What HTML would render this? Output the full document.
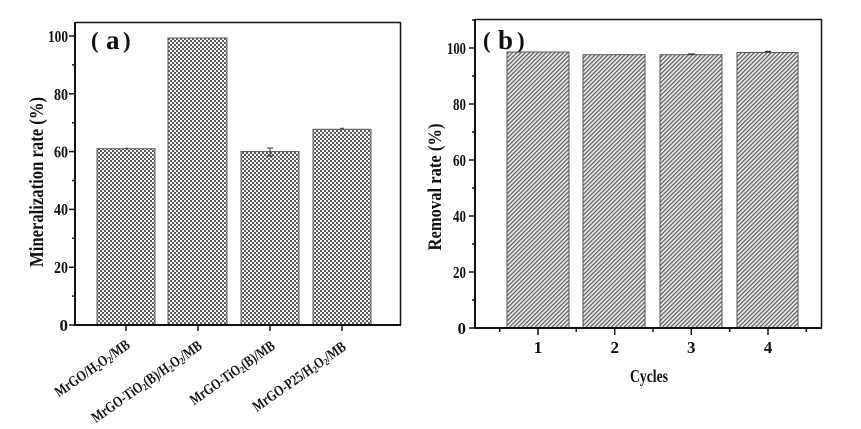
<!DOCTYPE html>
<html>
<head>
<meta charset="utf-8">
<style>
html,body{margin:0;padding:0;background:#fff;}
svg{display:block;}
text{font-family:"Liberation Serif","Noto Serif CJK SC",serif;font-weight:bold;fill:#111;}
</style>
</head>
<body>
<svg width="861" height="429" viewBox="0 0 861 429" xmlns="http://www.w3.org/2000/svg">
<defs>
  <pattern id="chk" width="4" height="4" patternUnits="userSpaceOnUse">
    <rect width="4" height="4" fill="#5c5c5c"/>
    <rect x="0" y="0" width="2" height="2" fill="#f2f2f2"/>
    <rect x="2" y="2" width="2" height="2" fill="#f2f2f2"/>
  </pattern>
  <pattern id="hatch" width="3" height="3" patternUnits="userSpaceOnUse" patternTransform="rotate(45)">
    <rect width="3" height="3" fill="#ececec"/>
    <rect x="0" y="0" width="1.2" height="3" fill="#5a5a5a"/>
  </pattern>
</defs>

<!-- ============ Panel (a) ============ -->
<rect x="97" y="148.7" width="58" height="176.3" fill="url(#chk)" stroke="#555" stroke-width="1"/>
<rect x="168" y="38" width="59" height="287" fill="url(#chk)" stroke="#555" stroke-width="1"/>
<rect x="241" y="151.6" width="58" height="173.4" fill="url(#chk)" stroke="#555" stroke-width="1"/>
<rect x="313" y="129.3" width="58" height="195.7" fill="url(#chk)" stroke="#555" stroke-width="1"/>
<g stroke="#333" stroke-width="1">
  <line x1="270" y1="148" x2="270" y2="156"/>
  <line x1="267" y1="148" x2="273" y2="148"/>
  <line x1="267" y1="156" x2="273" y2="156"/>
  <line x1="340" y1="128.3" x2="344" y2="128.3"/>
  <line x1="125" y1="148.2" x2="128" y2="148.2"/>
</g>
<line x1="75" y1="22.5" x2="400.5" y2="22.5" stroke="#111" stroke-width="1.5"/>
<line x1="400.5" y1="22" x2="400.5" y2="325" stroke="#111" stroke-width="1.5"/>
<line x1="75" y1="22" x2="75" y2="326" stroke="#111" stroke-width="2"/>
<line x1="74" y1="325" x2="401" y2="325" stroke="#111" stroke-width="2"/>
<g stroke="#111" stroke-width="1.5">
  <line x1="69" y1="325" x2="75" y2="325"/>
  <line x1="69" y1="267.2" x2="75" y2="267.2"/>
  <line x1="69" y1="209.4" x2="75" y2="209.4"/>
  <line x1="69" y1="151.6" x2="75" y2="151.6"/>
  <line x1="69" y1="93.8" x2="75" y2="93.8"/>
  <line x1="69" y1="36" x2="75" y2="36"/>
  <line x1="72" y1="296.1" x2="75" y2="296.1"/>
  <line x1="72" y1="238.3" x2="75" y2="238.3"/>
  <line x1="72" y1="180.5" x2="75" y2="180.5"/>
  <line x1="72" y1="122.7" x2="75" y2="122.7"/>
  <line x1="72" y1="64.9" x2="75" y2="64.9"/>
</g>
<g stroke="#111" stroke-width="1.5">
  <line x1="126" y1="325" x2="126" y2="331"/>
  <line x1="198" y1="325" x2="198" y2="331"/>
  <line x1="270" y1="325" x2="270" y2="331"/>
  <line x1="342" y1="325" x2="342" y2="331"/>
</g>
<g font-size="17" text-anchor="end">
  <text x="68" y="331">0</text>
  <text x="68" y="273" textLength="14" lengthAdjust="spacingAndGlyphs">20</text>
  <text x="68" y="215" textLength="14" lengthAdjust="spacingAndGlyphs">40</text>
  <text x="68" y="157.5" textLength="14" lengthAdjust="spacingAndGlyphs">60</text>
  <text x="68" y="100" textLength="14" lengthAdjust="spacingAndGlyphs">80</text>
  <text x="68" y="42" textLength="20" lengthAdjust="spacingAndGlyphs">100</text>
</g>
<text transform="translate(43,182) rotate(-90)" font-size="20" text-anchor="middle" textLength="170" lengthAdjust="spacingAndGlyphs">Mineralization rate (%)</text>
<text x="91" y="48" font-size="23">(</text>
<text x="106" y="49" font-size="27">a</text>
<text x="123" y="48" font-size="23">)</text>
<g font-size="15" text-anchor="end">
  <text transform="translate(131,347) rotate(-35)" textLength="88" lengthAdjust="spacingAndGlyphs">MrGO/H<tspan font-size="10" dy="2">2</tspan><tspan dy="-2">O</tspan><tspan font-size="10" dy="2">2</tspan><tspan dy="-2">/MB</tspan></text>
  <text transform="translate(203,348) rotate(-35)" textLength="131" lengthAdjust="spacingAndGlyphs">MrGO-TiO<tspan font-size="10" dy="2">2</tspan><tspan dy="-2">(B)/H</tspan><tspan font-size="10" dy="2">2</tspan><tspan dy="-2">O</tspan><tspan font-size="10" dy="2">2</tspan><tspan dy="-2">/MB</tspan></text>
  <text transform="translate(276,348) rotate(-35)" textLength="100" lengthAdjust="spacingAndGlyphs">MrGO-TiO<tspan font-size="10" dy="2">2</tspan><tspan dy="-2">(B)/MB</tspan></text>
  <text transform="translate(347,349) rotate(-35)" textLength="110" lengthAdjust="spacingAndGlyphs">MrGO-P25/H<tspan font-size="10" dy="2">2</tspan><tspan dy="-2">O</tspan><tspan font-size="10" dy="2">2</tspan><tspan dy="-2">/MB</tspan></text>
</g>

<!-- ============ Panel (b) ============ -->
<rect x="507" y="52" width="62" height="276" fill="url(#hatch)" stroke="#555" stroke-width="1"/>
<rect x="583" y="54.7" width="62" height="273.3" fill="url(#hatch)" stroke="#555" stroke-width="1"/>
<rect x="660" y="54.7" width="62" height="273.3" fill="url(#hatch)" stroke="#555" stroke-width="1"/>
<rect x="737" y="52.5" width="61" height="275.5" fill="url(#hatch)" stroke="#555" stroke-width="1"/>
<g stroke="#333" stroke-width="1.5">
  <line x1="688" y1="54.2" x2="695" y2="54.2"/>
  <line x1="765" y1="51.5" x2="771" y2="51.5"/>
</g>
<line x1="475" y1="19.5" x2="821.5" y2="19.5" stroke="#111" stroke-width="1.5"/>
<line x1="821.5" y1="19" x2="821.5" y2="328" stroke="#111" stroke-width="1.5"/>
<line x1="475" y1="19" x2="475" y2="329" stroke="#111" stroke-width="2"/>
<line x1="474" y1="328" x2="822" y2="328" stroke="#111" stroke-width="2"/>
<g stroke="#111" stroke-width="1.5">
  <line x1="469" y1="328" x2="475" y2="328"/>
  <line x1="469" y1="272" x2="475" y2="272"/>
  <line x1="469" y1="216" x2="475" y2="216"/>
  <line x1="469" y1="160" x2="475" y2="160"/>
  <line x1="469" y1="104" x2="475" y2="104"/>
  <line x1="469" y1="48" x2="475" y2="48"/>
  <line x1="472" y1="300" x2="475" y2="300"/>
  <line x1="472" y1="244" x2="475" y2="244"/>
  <line x1="472" y1="188" x2="475" y2="188"/>
  <line x1="472" y1="132" x2="475" y2="132"/>
  <line x1="472" y1="76" x2="475" y2="76"/>
  <line x1="472" y1="20" x2="475" y2="20"/>
</g>
<g stroke="#111" stroke-width="1.5">
  <line x1="538" y1="328" x2="538" y2="335"/>
  <line x1="614.7" y1="328" x2="614.7" y2="335"/>
  <line x1="691.3" y1="328" x2="691.3" y2="335"/>
  <line x1="768" y1="328" x2="768" y2="335"/>
  <line x1="499.7" y1="328" x2="499.7" y2="332"/>
  <line x1="576.3" y1="328" x2="576.3" y2="332"/>
  <line x1="653" y1="328" x2="653" y2="332"/>
  <line x1="729.7" y1="328" x2="729.7" y2="332"/>
  <line x1="806.3" y1="328" x2="806.3" y2="332"/>
</g>
<g font-size="17" text-anchor="end">
  <text x="466" y="334">0</text>
  <text x="466" y="278" textLength="13" lengthAdjust="spacingAndGlyphs">20</text>
  <text x="466" y="222" textLength="13" lengthAdjust="spacingAndGlyphs">40</text>
  <text x="466" y="166" textLength="13" lengthAdjust="spacingAndGlyphs">60</text>
  <text x="466" y="110" textLength="13" lengthAdjust="spacingAndGlyphs">80</text>
  <text x="466" y="54" textLength="19" lengthAdjust="spacingAndGlyphs">100</text>
</g>
<g font-size="17" text-anchor="middle">
  <text x="538" y="353">1</text>
  <text x="614.7" y="353">2</text>
  <text x="691.3" y="353">3</text>
  <text x="768" y="353">4</text>
</g>
<text x="649" y="382" font-size="18" text-anchor="middle" textLength="38" lengthAdjust="spacingAndGlyphs">Cycles</text>
<text transform="translate(441,187) rotate(-90)" font-size="19" text-anchor="middle" textLength="127" lengthAdjust="spacingAndGlyphs">Removal rate (%)</text>
<text x="483" y="48" font-size="23">(</text>
<text x="498" y="49" font-size="27">b</text>
<text x="517" y="48" font-size="23">)</text>
</svg>
</body>
</html>
